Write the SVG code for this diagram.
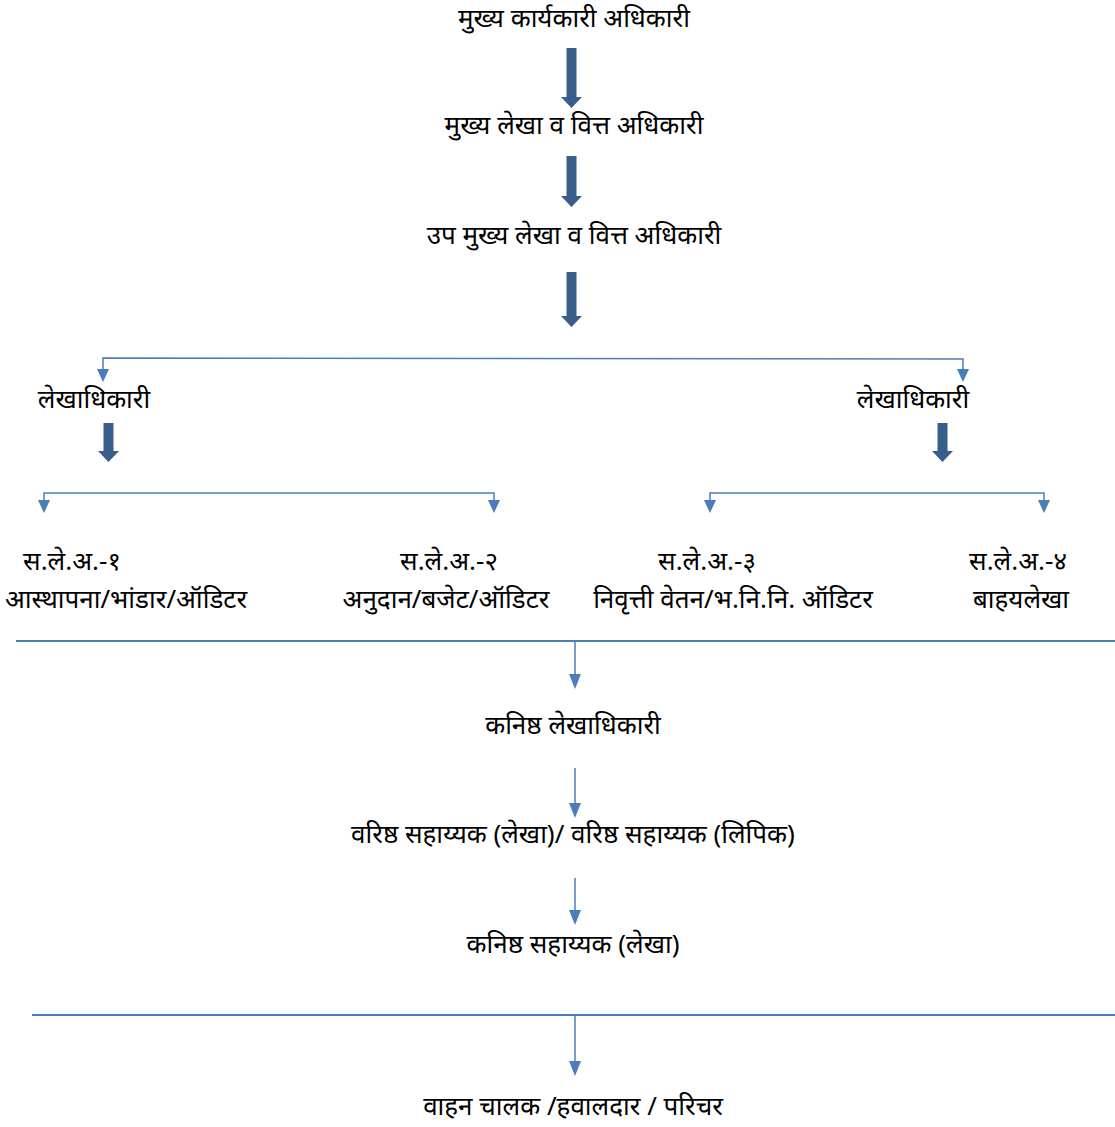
<svg xmlns="http://www.w3.org/2000/svg" width="1115" height="1127" viewBox="0 0 1115 1127">
<style>
.t{font-family:"Noto Sans","Liberation Sans",sans-serif;font-size:26px;font-weight:400;fill:#000;text-anchor:middle}
.c{stroke:#4A7EBB;stroke-width:1.5;fill:none}
.h{stroke:#4A7EBB;stroke-width:2;fill:none}
.big{fill:#3A5E8C}
.ah{fill:#4A7EBB}
</style>
<rect width="1115" height="1127" fill="#fff"/>

<g id="connectors">
<path class="big" d="M566.5,48 H576.5 V97 H582 L571.5,108 L561,97 H566.5 Z"/>
<path class="big" d="M566.5,156 H576.5 V196 H582 L571.5,207 L561,196 H566.5 Z"/>
<path class="big" d="M566.5,272 H576.5 V316 H582 L571.5,327 L561,316 H566.5 Z"/>
<path class="big" d="M103.5,423 H113.5 V451 H119 L108.5,462 L98,451 H103.5 Z"/>
<path class="big" d="M937.5,423 H947.5 V451 H953 L942.5,462 L932,451 H937.5 Z"/>
<path class="c" d="M103,372 V358 L963,359 V372"/>
<path class="ah" d="M97,369 H109 L103,382 Z"/>
<path class="ah" d="M957,369 H969 L963,382 Z"/>
<path class="c" d="M44,502 V493 H494 V502"/>
<path class="ah" d="M38,500 H50 L44,513 Z"/>
<path class="ah" d="M488,500 H500 L494,513 Z"/>
<path class="c" d="M710,502 V493 H1044 V502"/>
<path class="ah" d="M704,500 H716 L710,513 Z"/>
<path class="ah" d="M1038,500 H1050 L1044,513 Z"/>
<line class="h" x1="16" y1="641" x2="1115" y2="641"/>
<line class="c" x1="575" y1="641" x2="575" y2="676"/>
<path class="ah" d="M569,674 H581 L575,689 Z"/>
<line class="c" x1="575" y1="768" x2="575" y2="806"/>
<path class="ah" d="M569,803 H581 L575,818 Z"/>
<line class="c" x1="575" y1="878" x2="575" y2="913"/>
<path class="ah" d="M569,910 H581 L575,925 Z"/>
<line class="h" x1="32" y1="1015" x2="1115" y2="1015"/>
<line class="c" x1="575" y1="1015" x2="575" y2="1063"/>
<path class="ah" d="M569,1061 H581 L575,1076 Z"/>
</g>

<g id="n-ceo"><text class="t" x="574" y="27">मुख्य कार्यकारी अधिकारी</text></g>
<g id="n-cafo"><text class="t" x="574" y="134">मुख्य लेखा व वित्त अधिकारी</text></g>
<g id="n-dycafo"><text class="t" x="574" y="244">उप मुख्य लेखा व वित्त अधिकारी</text></g>
<g id="n-ao-left"><text class="t" x="94" y="408">लेखाधिकारी</text></g>
<g id="n-ao-right"><text class="t" x="913" y="408">लेखाधिकारी</text></g>
<g id="n-aao1"><text class="t" x="72" y="570">स.ले.अ.-१</text><text class="t" x="126" y="608">आस्थापना/भांडार/ऑडिटर</text></g>
<g id="n-aao2"><text class="t" x="449" y="570">स.ले.अ.-२</text><text class="t" x="446" y="608">अनुदान/बजेट/ऑडिटर</text></g>
<g id="n-aao3"><text class="t" x="707" y="570">स.ले.अ.-३</text><text class="t" x="733" y="608">निवृत्ती वेतन/भ.नि.नि. ऑडिटर</text></g>
<g id="n-aao4"><text class="t" x="1018" y="570">स.ले.अ.-४</text><text class="t" x="1021" y="608">बाहयलेखा</text></g>
<g id="n-jao"><text class="t" x="573" y="734">कनिष्ठ लेखाधिकारी</text></g>
<g id="n-sa"><text class="t" x="573" y="843">वरिष्ठ सहाय्यक (लेखा)/ वरिष्ठ सहाय्यक (लिपिक)</text></g>
<g id="n-ja"><text class="t" x="573" y="953">कनिष्ठ सहाय्यक (लेखा)</text></g>
<g id="n-driver"><text class="t" x="573" y="1115">वाहन चालक /हवालदार / परिचर</text></g>
</svg>
